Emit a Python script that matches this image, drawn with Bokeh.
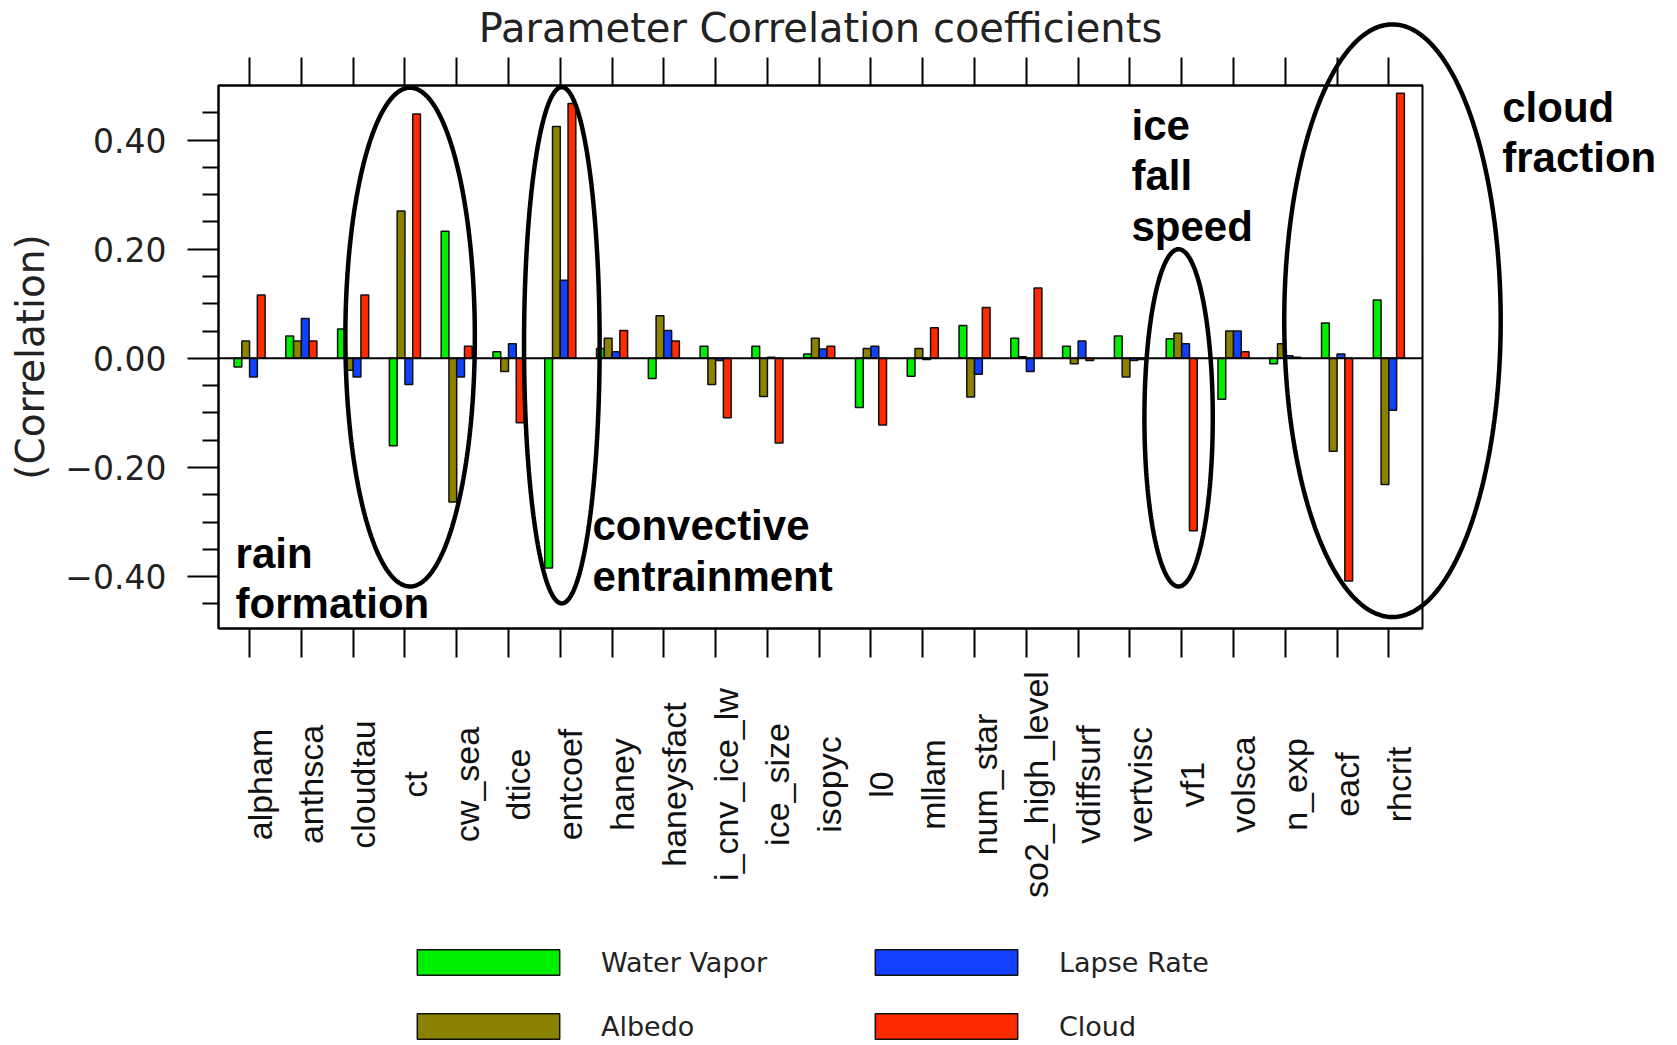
import numpy as np
from bokeh.plotting import figure
from bokeh.models import (ColumnDataSource, Range1d, LinearAxis, FixedTicker, BoxAnnotation,
                          LabelSet, Label, PolyAnnotation, Legend, LegendItem)
from bokeh.transform import dodge
from bokeh.core.properties import value
from bokeh.embed import file_html
from bokeh.resources import INLINE

# ---------------- data ----------------
categories = ["alpham", "anthsca", "cloudtau", "ct", "cw_sea", "dtice", "entcoef",
              "haney", "haneysfact", "i_cnv_ice_lw", "ice_size", "isopyc", "l0",
              "mllam", "num_star", "so2_high_level", "vdiffsurf", "vertvisc", "vf1",
              "volsca", "n_exp", "eacf", "rhcrit"]
water_vapor = [-0.016, 0.041, 0.054, -0.160, 0.233, 0.012, -0.384, 0.018, -0.037, 0.022,
               0.022, 0.008, -0.090, -0.033, 0.060, 0.037, 0.022, 0.041, 0.036, -0.075,
               -0.010, 0.065, 0.107]
albedo = [0.032, 0.032, -0.022, 0.270, -0.263, -0.024, 0.425, 0.037, 0.078, -0.048,
          -0.070, 0.037, 0.018, 0.018, -0.071, 0.003, -0.010, -0.034, 0.046, 0.050,
          0.027, -0.170, -0.231]
lapse_rate = [-0.034, 0.073, -0.034, -0.048, -0.034, 0.027, 0.143, 0.012, 0.051, -0.004,
              0.002, 0.017, 0.022, -0.002, -0.029, -0.024, 0.032, -0.004, 0.027, 0.050,
              0.005, 0.008, -0.095]
cloud = [0.116, 0.032, 0.116, 0.448, 0.022, -0.118, 0.467, 0.051, 0.032, -0.109,
         -0.155, 0.022, -0.122, 0.056, 0.093, 0.129, -0.004, -0.002, -0.316, 0.012,
         0.002, -0.408, 0.486]
series_names = ["Water Vapor", "Albedo", "Lapse Rate", "Cloud"]
y_major_ticks = [-0.4, -0.2, 0.0, 0.2, 0.4]
y_tick_labels = ["\u22120.40", "\u22120.20", "0.00", "0.20", "0.40"]
y_minor_ticks = [-0.45, -0.35, -0.3, -0.25, -0.15, -0.1, -0.05,
                 0.05, 0.1, 0.15, 0.25, 0.3, 0.35, 0.45]
title_text = "Parameter Correlation coefficients"
y_label = "(Correlation)"

# annotation texts and their ellipses (data units)
notes = [["rain", "formation"], ["convective", "entrainment"],
         ["ice", "fall", "speed"], ["cloud", "fraction"]]
note_x = [-0.27, 6.62, 17.03, 24.19]
note_y = [[-0.358, -0.449], [-0.307, -0.400], [0.427, 0.335, 0.241], [0.460, 0.368]]
ell_cx = [3.10, 6.03, 17.94, 22.07]
ell_cy = [0.039, 0.024, -0.109, 0.069]
ell_rx = [1.25, 0.73, 0.66, 2.09]
ell_ry = [0.457, 0.473, 0.309, 0.543]

# ---------------- layout / style ----------------
W, H = 1677, 1045
box_x = (-0.6, 22.65)          # data extent of the plot box
box_y = (-0.495, 0.5)
box_px = (218, 1422, 85, 628)  # left, right, top, bottom of the plot box in pixels
ux = (box_x[1] - box_x[0]) / (box_px[1] - box_px[0])
uy = (box_y[1] - box_y[0]) / (box_px[3] - box_px[2])
x_range = Range1d(box_x[0] - box_px[0] * ux, box_x[1] + (W - box_px[1]) * ux)
y_range = Range1d(box_y[0] - (H - box_px[3]) * uy, box_y[1] + box_px[2] * uy)

colors = ["#00EE00", "#8A8200", "#1240FF", "#FF2A00"]
ink = "#222222"

src = ColumnDataSource(dict(x=list(range(len(categories))), cat=categories,
                            wv=water_vapor, alb=albedo, lr=lapse_rate, cl=cloud))

p = figure(width=W, height=H, output_backend="svg", toolbar_location=None,
           x_range=x_range, y_range=y_range,
           x_axis_location=None, y_axis_location=None,
           min_border=0, min_border_left=0, min_border_right=0,
           min_border_top=0, min_border_bottom=0)
p.grid.visible = False
p.outline_line_color = None
p.background_fill_color = "white"
p.border_fill_color = "white"

# plot box
p.add_layout(BoxAnnotation(left=box_x[0], right=box_x[1], bottom=box_y[0], top=box_y[1],
                           fill_color=None, fill_alpha=0, line_color="black",
                           line_width=2, line_alpha=1))

# left axis
ya = LinearAxis(ticker=FixedTicker(ticks=y_major_ticks, minor_ticks=y_minor_ticks),
                fixed_location=box_x[0], bounds=box_y)
ya.major_label_overrides = {t: l for t, l in zip(y_major_ticks, y_tick_labels)}
ya.major_tick_in = 0
ya.major_tick_out = 31
ya.minor_tick_in = 0
ya.minor_tick_out = 16
ya.major_tick_line_width = 2
ya.minor_tick_line_width = 2
ya.axis_line_width = 2
ya.major_label_standoff = 21
ya.major_label_text_font = "DejaVu Sans"
ya.major_label_text_font_size = "33px"
ya.major_label_text_color = ink
ya.axis_label = y_label
ya.axis_label_text_font = "DejaVu Sans"
ya.axis_label_text_font_style = "normal"
ya.axis_label_text_font_size = "39px"
ya.axis_label_text_color = ink
ya.axis_label_standoff = 9
p.add_layout(ya, "left")

# top and bottom tick axes
xt = list(range(len(categories)))
for place, loc, tlen in (("above", box_y[1], 28), ("below", box_y[0], 29)):
    ax = LinearAxis(ticker=FixedTicker(ticks=xt, minor_ticks=[]),
                    fixed_location=loc, bounds=box_x)
    ax.major_label_overrides = {i: "" for i in xt}
    ax.major_label_text_font_size = "1px"
    ax.major_tick_in = 0
    ax.major_tick_out = tlen
    ax.major_tick_line_width = 2
    ax.axis_line_width = 2
    p.add_layout(ax, place)

# bars
offsets = [-0.225, -0.075, 0.075, 0.225]
cols = ["wv", "alb", "lr", "cl"]
rends = []
for off, col, c in zip(offsets, cols, colors):
    r = p.vbar(x=dodge("x", off, range=p.x_range), top=col, bottom=0, width=0.15,
               source=src, fill_color=c, line_color="#111111", line_width=1.5)
    rends.append(r)

# zero line across the box
p.segment(x0=[box_x[0]], x1=[box_x[1]], y0=[0], y1=[0], line_color="black", line_width=2)

# title
p.add_layout(Label(x=(box_x[0] + box_x[1]) / 2, y=box_y[1] + 58 * uy, text=title_text,
                   text_align="center", text_baseline="alphabetic",
                   text_font="DejaVu Sans", text_font_size="40px", text_color=ink))

# category labels, rotated and centred
cat_labels = LabelSet(x="x", y=box_y[1] - (784 - box_px[2]) * uy, text="cat", source=src,
                      angle=np.pi / 2, text_align="center", text_baseline="alphabetic",
                      x_offset=22, text_font=value("Liberation Sans"),
                      text_font_size="34px", text_color="#111111")
p.add_layout(cat_labels)

# ellipses
theta = np.linspace(0, 2 * np.pi, 240)
for cx, cy, rx, ry in zip(ell_cx, ell_cy, ell_rx, ell_ry):
    p.add_layout(PolyAnnotation(xs=list(cx + rx * np.cos(theta)),
                                ys=list(cy + ry * np.sin(theta)),
                                fill_color=None, fill_alpha=0, line_color="black",
                                line_alpha=1, line_width=4.5))

# annotation texts
for lines, nx, nys in zip(notes, note_x, note_y):
    for t, ny in zip(lines, nys):
        p.add_layout(Label(x=nx, y=ny, text=t, text_font="Liberation Sans",
                           text_font_style="bold", text_font_size="42px",
                           text_baseline="alphabetic", text_color="black"))

# legends (two columns); legend swatches are drawn inset by 10% of the glyph box
for items, loc in (([0, 1], (399, 3)), ([2, 3], (857, 3))):
    leg = Legend(items=[LegendItem(label=series_names[i], renderers=[rends[i]]) for i in items],
                 location=loc, glyph_width=178, glyph_height=32, label_standoff=24,
                 label_height=30, spacing=32, padding=0, margin=0, border_line_alpha=0,
                 background_fill_alpha=0, label_text_font="DejaVu Sans",
                 label_text_font_size="27px", label_text_color=ink)
    p.add_layout(leg, "center")

open("out.html", "w").write(file_html(p, INLINE))
